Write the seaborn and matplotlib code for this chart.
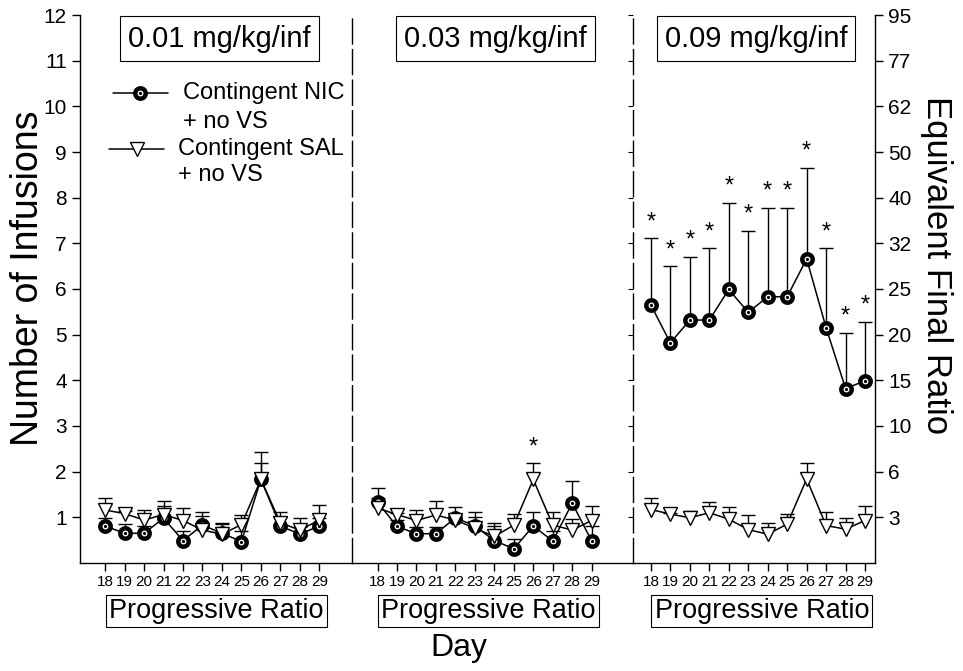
import numpy as np
import matplotlib
matplotlib.use('Agg')
import matplotlib.pyplot as plt
import matplotlib.transforms as mtransforms
import seaborn as sns

# Values (mean and upward SEM)
days = [18, 19, 20, 21, 22, 23, 24, 25, 26, 27, 28, 29]
doses = ['0.01 mg/kg/inf', '0.03 mg/kg/inf', '0.09 mg/kg/inf']

nic_01 = [0.81, 0.65, 0.65, 0.98, 0.49, 0.83, 0.65, 0.47, 1.83, 0.81, 0.63, 0.81]
nic_01_err = [0.17, 0.20, 0.15, 0.27, 0.20, 0.20, 0.20, 0.23, 0.37, 0.31, 0.15, 0.17]
sal_01 = [1.16, 1.08, 0.94, 1.06, 0.93, 0.72, 0.63, 0.84, 1.83, 0.88, 0.72, 0.94]
sal_01_err = [0.26, 0.05, 0.21, 0.30, 0.28, 0.40, 0.24, 0.21, 0.59, 0.12, 0.26, 0.33]

nic_03 = [1.33, 0.80, 0.64, 0.64, 0.99, 0.81, 0.49, 0.31, 0.81, 0.48, 1.31, 0.48]
nic_03_err = [0.31, 0.15, 0.15, 0.15, 0.23, 0.30, 0.38, 0.21, 0.30, 0.21, 0.49, 0.33]
sal_03 = [1.20, 1.06, 0.93, 1.05, 0.94, 0.76, 0.58, 0.83, 1.83, 0.83, 0.72, 0.93]
sal_03_err = [0.23, 0.04, 0.22, 0.31, 0.10, 0.25, 0.23, 0.24, 0.35, 0.28, 0.24, 0.32]

nic_09 = [5.65, 4.82, 5.32, 5.32, 5.99, 5.49, 5.83, 5.83, 6.66, 5.15, 3.82, 3.99]
nic_09_err = [1.46, 1.68, 1.39, 1.57, 1.90, 1.79, 1.95, 1.95, 2.00, 1.74, 1.22, 1.29]
sal_09 = [1.17, 1.07, 0.99, 1.10, 0.96, 0.73, 0.63, 0.85, 1.84, 0.82, 0.74, 0.93]
sal_09_err = [0.26, 0.03, 0.15, 0.24, 0.26, 0.31, 0.25, 0.22, 0.34, 0.30, 0.24, 0.32]

# days marked with * (significant)
nic_sig = [[], [], days]
sal_sig = [[], [26], []]

left_ticks = list(range(1, 13))
right_ticks = [3, 6, 10, 15, 20, 25, 32, 40, 50, 62, 77, 95]

nic_all = [nic_01, nic_03, nic_09]
nic_err_all = [nic_01_err, nic_03_err, nic_09_err]
sal_all = [sal_01, sal_03, sal_09]
sal_err_all = [sal_01_err, sal_03_err, sal_09_err]

sns.set_style('ticks')
plt.rcParams['font.family'] = ['Liberation Sans', 'DejaVu Sans']
plt.rcParams.update({
    'axes.linewidth': 1.0,
    'axes.edgecolor': 'black',
    'text.color': 'black',
    'axes.labelcolor': 'black',
    'xtick.color': 'black',
    'ytick.color': 'black',
})

xlims = [(16.71, 30.70), (16.71, 31.11), (17.07, 29.51)]
widths = [b - a for a, b in xlims]

fig, axes = plt.subplots(1, 3, figsize=(9.63, 6.71), dpi=100, sharey=True,
                         gridspec_kw=dict(width_ratios=widths, wspace=0))
fig.subplots_adjust(left=0.0831, right=0.9086, bottom=0.161, top=0.9776)

nic_style = dict(marker='o', markersize=7.5, markeredgewidth=3.2,
                 markeredgecolor='black', markerfacecolor='white')
sal_style = dict(marker='v', markersize=10.5, markeredgewidth=1.0,
                 markeredgecolor='black', markerfacecolor='white')


def draw_errors(ax, y, err):
    y = np.asarray(y)
    eb = ax.errorbar(days, y, yerr=[np.zeros_like(y), err], fmt='none',
                     ecolor='black', elinewidth=1, capsize=4.7, capthick=1, zorder=2)
    # only the upper caps are shown in the original
    for cl in eb[1]:
        if np.allclose(cl.get_ydata(), y):
            cl.remove()


for i, ax in enumerate(axes):
    draw_errors(ax, nic_all[i], nic_err_all[i])
    draw_errors(ax, sal_all[i], sal_err_all[i])
    sns.lineplot(x=days, y=nic_all[i], ax=ax, color='black', linewidth=1.1,
                 errorbar=None, sort=False, zorder=3, **nic_style)
    ax.plot(days, nic_all[i], ls='none', marker='o', ms=1.3, color='black', zorder=3.5)
    sns.lineplot(x=days, y=sal_all[i], ax=ax, color='black', linewidth=1.1,
                 errorbar=None, sort=False, zorder=4, **sal_style)

    # significance stars above the caps
    for d, m, e in zip(days, nic_all[i], nic_err_all[i]):
        if d in nic_sig[i]:
            ax.text(d, m + e + 0.22, '*', ha='center', va='baseline', fontsize=17)
    for d, m, e in zip(days, sal_all[i], sal_err_all[i]):
        if d in sal_sig[i]:
            ax.text(d, m + e + 0.22, '*', ha='center', va='baseline', fontsize=17)

    ax.set_xlim(*xlims[i])
    ax.set_ylim(0, 12)
    ax.set_xticks(days)
    ax.set_xticklabels([str(d) for d in days], fontsize=11)
    ax.tick_params(axis='x', length=6, width=1, pad=3, direction='out')
    ax.spines['top'].set_visible(False)
    ax.spines['right'].set_visible(False)
    ax.set_xlabel('')
    ax.set_ylabel('')

    trans = mtransforms.blended_transform_factory(ax.transData, ax.transAxes)
    ax.text(23.7, -0.0876, 'Progressive Ratio', transform=trans, ha='center', va='center',
            fontsize=19.5, clip_on=False,
            bbox=dict(boxstyle='square,pad=0.12', fc='white', ec='black', lw=0.8))

    if i > 0:
        ax.spines['left'].set_linestyle((0, (18, 4)))
        ax.spines['left'].set_linewidth(1.0)
        ax.tick_params(axis='y', left=False, labelleft=False)

title_x = [23.85, 24.05, 23.4]
for ax, dose, tx in zip(axes, doses, title_x):
    trans = mtransforms.blended_transform_factory(ax.transData, ax.transAxes)
    ax.text(tx, 0.957, dose, transform=trans, ha='center', va='center', fontsize=21,
            bbox=dict(boxstyle='square,pad=0.28', fc='white', ec='black', lw=0.8))

ax0 = axes[0]
ax0.set_yticks(left_ticks)
ax0.set_yticklabels([str(t) for t in left_ticks], fontsize=15)
ax0.tick_params(axis='y', length=6, width=1, direction='out')

# right axis: equivalent final ratio
ax_r = axes[2].twinx()
ax_r.set_ylim(0, 12)
ax_r.set_yticks(left_ticks)
ax_r.set_yticklabels([str(t) for t in right_ticks], fontsize=15)
ax_r.tick_params(axis='y', length=6, width=1, direction='out')
for s in ['top', 'left', 'bottom']:
    ax_r.spines[s].set_visible(False)

fig.text(0.029, 0.585, 'Number of Infusions', rotation=90, ha='center', va='center', fontsize=27)
fig.text(0.972, 0.605, 'Equivalent Final Ratio', rotation=270, ha='center', va='center', fontsize=25)

# legend drawn by hand (handle sits on the first text line)
ax0.plot([0.121, 0.322], [0.858, 0.858], transform=ax0.transAxes, color='black', lw=1.1)
ax0.plot([0.220], [0.858], transform=ax0.transAxes, ls='none', **nic_style)
ax0.plot([0.220], [0.858], transform=ax0.transAxes, ls='none', marker='o', ms=1.3, color='black')
ax0.text(0.377, 0.858, 'Contingent NIC', transform=ax0.transAxes, va='center', fontsize=17)
ax0.text(0.377, 0.805, '+ no VS', transform=ax0.transAxes, va='center', fontsize=17)
ax0.plot([0.106, 0.308], [0.755, 0.755], transform=ax0.transAxes, color='black', lw=1.1)
ax0.plot([0.209], [0.755], transform=ax0.transAxes, ls='none', **sal_style)
ax0.text(0.359, 0.755, 'Contingent SAL', transform=ax0.transAxes, va='center', fontsize=17)
ax0.text(0.359, 0.708, '+ no VS', transform=ax0.transAxes, va='center', fontsize=17)

fig.text(0.477, 0.034, 'Day', ha='center', va='center', fontsize=23)

fig.savefig('out.png', dpi=100)
